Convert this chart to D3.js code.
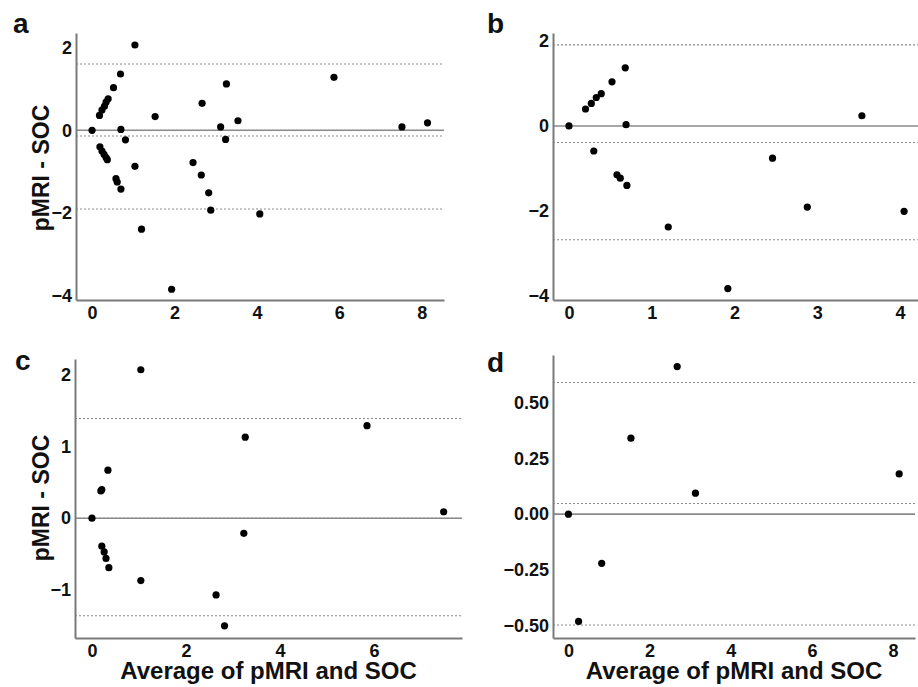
<!DOCTYPE html>
<html>
<head>
<meta charset="utf-8">
<script src="https://cdn.jsdelivr.net/npm/d3@7"></script>
<style>
  body { margin: 0; background: #fff; }
  text { font-family: "Liberation Sans", Arial, sans-serif; font-weight: bold; fill: #111; }
</style>
</head>
<body>
<div id="chart"></div>
<script>
// panel a: all lesions
const aX = [0, 1.04, 0.18, 0.24, 0.30, 0.34, 0.39, 0.52, 0.69, 0.70, 0.81, 1.04,
            0.19, 0.24, 0.29, 0.34, 0.37, 0.58, 0.61, 0.70, 1.20, 1.53, 1.93,
            2.45, 2.65, 2.67, 2.83, 2.88, 3.12, 3.24, 3.26, 3.54, 4.07, 5.87, 7.52, 8.14];
const aY = [0, 2.06, 0.36, 0.49, 0.58, 0.68, 0.76, 1.03, 1.36, 0.02, -0.23, -0.87,
            -0.40, -0.50, -0.58, -0.66, -0.71, -1.17, -1.25, -1.42, -2.39, 0.33, -3.84,
            -0.78, -1.08, 0.65, -1.51, -1.93, 0.08, -0.22, 1.12, 0.23, -2.02, 1.28, 0.08, 0.18];
const aLimits = [1.60, -0.14, -1.90];

// panel b
const bX = [0, 0.20, 0.27, 0.33, 0.39, 0.52, 0.68, 0.69, 0.30, 0.58, 0.62, 0.70,
            1.20, 1.92, 2.46, 2.88, 3.54, 4.05];
const bY = [0, 0.40, 0.53, 0.67, 0.76, 1.04, 1.37, 0.03, -0.59, -1.15, -1.23, -1.40,
            -2.38, -3.83, -0.76, -1.91, 0.24, -2.01];
const bLimits = [1.91, -0.39, -2.68];

// panel c
const cX = [0, 1.04, 0.19, 0.21, 0.34, 0.21, 0.26, 0.30, 0.36, 1.04, 2.64, 2.82, 3.26, 3.23, 5.85, 7.48];
const cY = [0, 2.07, 0.38, 0.40, 0.67, -0.39, -0.47, -0.56, -0.69, -0.87, -1.07, -1.50, 1.13, -0.21, 1.29, 0.09];
const cLimits = [1.39, 0.0, -1.36];

// panel d
const dX = [0, 0.25, 0.82, 1.54, 2.68, 3.13, 8.15];
const dY = [0, -0.48, -0.22, 0.34, 0.66, 0.094, 0.18];
const dLimits = [0.589, 0.048, -0.496];

const xTicksA = [0, 2, 4, 6, 8];
const xTicksB = [0, 1, 2, 3, 4];
const xTicksC = [0, 2, 4, 6];
const xTicksD = [0, 2, 4, 6, 8];
const yTicksAB = [-4, -2, 0, 2];
const yTicksC = [-1, 0, 1, 2];
const yTicksD = [-0.5, -0.25, 0, 0.25, 0.5];

const yTitle = 'pMRI - SOC';
const xTitle = 'Average of pMRI and SOC';

const width = 918, height = 687;

const svg = d3.select('#chart').append('svg')
    .attr('width', width)
    .attr('height', height);

const panels = [
    { label: 'a', xs: aX, ys: aY, limits: aLimits, xTicks: xTicksA, yTicks: yTicksAB, fmt: d3.format('d'),
      left: 76, right: 444, top: 33, bottom: 300, xDom: [-0.39, 8.54], yDom: [-4.1, 2.35],
      lx: 13, ly: 33, yT: { x: 41, y: 168 } },
    { label: 'b', xs: bX, ys: bY, limits: bLimits, xTicks: xTicksB, yTicks: yTicksAB, fmt: d3.format('d'),
      left: 553, right: 918, top: 33, bottom: 300, xDom: [-0.193, 4.218], yDom: [-4.1, 2.19],
      lx: 487, ly: 33 },
    { label: 'c', xs: cX, ys: cY, limits: cLimits, xTicks: xTicksC, yTicks: yTicksC, fmt: d3.format('d'),
      left: 75, right: 462, top: 359, bottom: 638, xDom: [-0.36, 7.87], yDom: [-1.67, 2.22],
      lx: 15, ly: 370, yT: { x: 41, y: 498 }, xT: 679 },
    { label: 'd', xs: dX, ys: dY, limits: dLimits, xTicks: xTicksD, yTicks: yTicksD, fmt: d3.format('.2f'),
      left: 553, right: 915, top: 355, bottom: 638, xDom: [-0.38, 8.54], yDom: [-0.554, 0.712],
      lx: 487, ly: 372, xT: 679 }
];

panels.forEach(function(p) {
    const x = d3.scaleLinear().domain(p.xDom).range([p.left, p.right]);
    const y = d3.scaleLinear().domain(p.yDom).range([p.bottom, p.top]);
    const g = svg.append('g');

    // limits of agreement and mean difference
    g.selectAll('.lim').data(p.limits).enter().append('line')
        .attr('x1', p.left).attr('x2', p.right)
        .attr('y1', d => y(d)).attr('y2', d => y(d))
        .attr('stroke', '#8a8a8a')
        .attr('stroke-width', 1.1)
        .attr('stroke-dasharray', '2,2');

    // zero line
    g.append('line')
        .attr('x1', p.left).attr('x2', p.right)
        .attr('y1', y(0)).attr('y2', y(0))
        .attr('stroke', '#8a8a8a')
        .attr('stroke-width', 1.6);

    const xAxis = g.append('g')
        .attr('transform', 'translate(0,' + p.bottom + ')')
        .call(d3.axisBottom(x).tickValues(p.xTicks).tickSize(0).tickPadding(6).tickFormat(d3.format('d')));
    const yAxis = g.append('g')
        .attr('transform', 'translate(' + p.left + ',0)')
        .call(d3.axisLeft(y).tickValues(p.yTicks).tickSize(0).tickPadding(4).tickFormat(p.fmt));

    [xAxis, yAxis].forEach(function(ax) {
        ax.attr('font-family', null).attr('font-size', null);
        ax.select('.domain').attr('stroke', '#7a7a7a').attr('stroke-width', 2);
        ax.selectAll('text')
            .attr('font-weight', 'bold')
            .style('font-size', '18px')
            .attr('fill', '#111');
    });

    g.selectAll('circle')
        .data(p.xs.map((v, i) => [v, p.ys[i]]))
        .enter().append('circle')
        .attr('cx', d => x(d[0]))
        .attr('cy', d => y(d[1]))
        .attr('r', 3.6)
        .attr('fill', '#000');

    g.append('text')
        .attr('x', p.lx).attr('y', p.ly)
        .style('font-size', '28px')
        .text(p.label);

    if (p.yT) {
        g.append('text')
            .attr('transform', 'translate(' + p.yT.x + ',' + p.yT.y + ') rotate(-90)')
            .attr('text-anchor', 'middle')
            .attr('dominant-baseline', 'central')
            .style('font-size', '23px')
            .text(yTitle);
    }
    if (p.xT) {
        g.append('text')
            .attr('x', (p.left + p.right) / 2)
            .attr('y', p.xT)
            .attr('text-anchor', 'middle')
            .style('font-size', '24px')
            .text(xTitle);
    }
});
</script>
</body>
</html>
